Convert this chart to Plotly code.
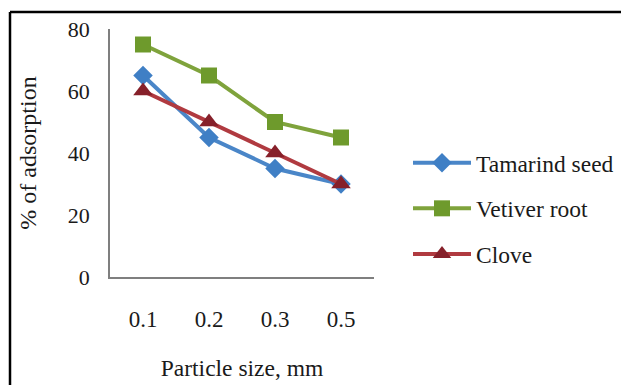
import plotly.graph_objects as go

categories = ["0.1", "0.2", "0.3", "0.5"]
tamarind = [65, 45, 35, 30]
vetiver = [75, 65, 50, 45]
clove = [60, 50, 40, 30]
y_ticks = [0, 20, 40, 60, 80]

FONT = "Liberation Serif"
W, H = 621, 385
L, R, T, B = 110, 247, 29, 108
pw = W - L - R
ph = H - T - B

fig = go.Figure()
fig.add_trace(go.Scatter(
    x=categories, y=tamarind, name="Tamarind seed", mode="lines+markers",
    line=dict(color="#4A86C8", width=4), legendgroup="a",
    marker=dict(symbol="diamond", size=15, color="#3F7FC5")))
fig.add_trace(go.Scatter(
    x=categories, y=vetiver, name="Vetiver root", mode="lines+markers",
    line=dict(color="#7FA33C", width=4), legendgroup="b",
    marker=dict(symbol="square", size=16, color="#6E9A2C")))
fig.add_trace(go.Scatter(
    x=categories, y=clove, name="Clove", mode="lines+markers",
    line=dict(color="#B03A40", width=4), legendgroup="c",
    marker=dict(symbol="triangle-up", size=17, color="#86202A")))

fig.update_layout(
    width=W, height=H,
    margin=dict(l=L, r=R, t=T, b=B, pad=0, autoexpand=False),
    paper_bgcolor="white", plot_bgcolor="white",
    font=dict(family=FONT, size=22, color="#1a1a1a"),
    showlegend=True,
    legend=dict(x=(408 - L) / pw, y=(277 - 141) / ph, xanchor="left", yanchor="top",
                font=dict(family=FONT, size=23.5), tracegroupgap=12,
                bgcolor="rgba(0,0,0,0)", itemwidth=58),
    xaxis=dict(type="category", range=[-0.5, 3.5], showgrid=False, zeroline=False,
               showline=True, linecolor="#7f7f7f", linewidth=1.5, ticks="",
               automargin=False,
               ticklabelstandoff=21, tickfont=dict(family=FONT, size=23),
               title=dict(text="Particle size, mm", font=dict(family=FONT, size=23.5), standoff=28)),
    yaxis=dict(range=[0, 80], tickvals=y_ticks, showgrid=False, zeroline=False,
               showline=True, linecolor="#7f7f7f", linewidth=1.5, ticks="",
               automargin=False,
               ticklabelstandoff=14, tickfont=dict(family=FONT, size=22),
               title=dict(text="% of adsorption", font=dict(family=FONT, size=24), standoff=24)),
    shapes=[
        dict(type="line", xref="paper", yref="paper",
             x0=(10 - L) / pw, x1=(W + 10 - L) / pw,
             y0=(277 - 12) / ph, y1=(277 - 12) / ph,
             line=dict(color="black", width=2.5)),
        dict(type="line", xref="paper", yref="paper",
             x0=(10 - L) / pw, x1=(10 - L) / pw,
             y0=(277 - 12) / ph, y1=(277 - H - 10) / ph,
             line=dict(color="black", width=2.5)),
    ],
)

fig.write_html("out.html")
